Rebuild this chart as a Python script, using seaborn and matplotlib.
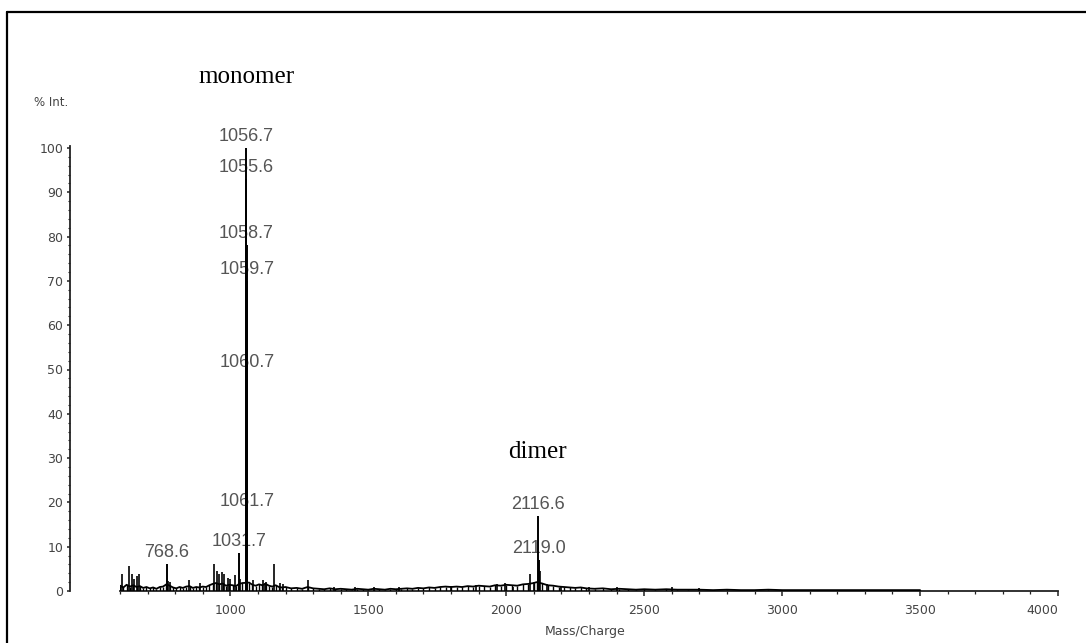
import matplotlib
matplotlib.use("Agg")
import matplotlib.pyplot as plt
import seaborn as sns
import pandas as pd
from matplotlib.ticker import MultipleLocator, FixedLocator
from matplotlib.lines import Line2D

# ---------------- data ----------------
# labelled peaks (m/z, % intensity)
peak_mz = [768.6, 1031.7, 1055.6, 1056.7, 1058.7, 1059.7, 1060.7, 1061.7, 2116.6, 2119.0]
peak_int = [6.0, 8.5, 93.0, 100.0, 78.0, 70.0, 49.0, 17.5, 17.0, 7.0]
peak_labels = ["768.6", "1031.7", "1055.6", "1056.7", "1058.7", "1059.7",
               "1060.7", "1061.7", "2116.6", "2119.0"]

# small unlabelled spikes
spike_mz = [609, 633, 642, 650, 662, 670, 775, 781, 850, 890,
            940, 951, 960, 968, 977, 992, 1000, 1017, 1035,
            1083, 1119, 1125, 1131, 1159, 1180, 1192, 1282,
            1375, 1450, 1520, 1610, 1800, 1890,
            1966, 1996, 2026, 2087, 2099, 2121, 2147,
            2200, 2300, 2400, 2600, 2700]
spike_int = [3.8, 5.6, 3.8, 2.6, 3.4, 3.8, 2.3, 2.0, 2.4, 1.7,
             6.0, 4.5, 3.8, 4.3, 3.9, 3.0, 2.8, 3.5, 2.6,
             2.4, 2.4, 1.9, 2.0, 6.0, 1.7, 1.5, 2.4,
             1.0, 0.9, 0.8, 1.0, 1.2, 1.3,
             1.5, 1.9, 1.0, 3.8, 2.0, 4.5, 1.5,
             1.2, 0.8, 1.0, 0.8, 0.6]

# noisy baseline trace
noise_mz = [600, 612, 624, 636, 648, 660, 672, 684, 696, 708,
            720, 732, 744, 756, 768, 780, 792, 804, 816, 828,
            840, 852, 864, 876, 888, 900, 912, 924, 936, 948,
            960, 972, 984, 996, 1008, 1020, 1032, 1044, 1068, 1080,
            1092, 1104, 1116, 1128, 1140, 1152, 1164, 1176, 1188, 1200,
            1220, 1240, 1260, 1280, 1300, 1320, 1340, 1360, 1380, 1400,
            1420, 1440, 1460, 1480, 1500, 1520, 1540, 1560, 1580, 1600,
            1620, 1640, 1660, 1680, 1700, 1720, 1740, 1760, 1780, 1800,
            1820, 1840, 1860, 1880, 1900, 1920, 1940, 1960, 1980, 2000,
            2020, 2040, 2060, 2080, 2100, 2110, 2130, 2150, 2170, 2190,
            2210, 2230, 2250, 2270, 2290, 2320, 2350, 2380, 2410, 2440,
            2470, 2500, 2540, 2580, 2620, 2660, 2700, 2750, 2800, 2850,
            2900, 2950, 3000, 3050, 3100, 3150, 3200, 3250, 3300, 3350,
            3400, 3450, 3500]
noise_int = [1.2, 0.8, 1.4, 1.0, 1.3, 0.9, 1.1, 0.7, 0.9, 0.6,
             0.8, 0.5, 0.9, 1.0, 1.5, 1.2, 0.8, 0.6, 0.9, 0.7,
             1.0, 1.1, 0.7, 0.9, 0.8, 1.0, 0.9, 1.3, 1.6, 1.8,
             1.5, 1.7, 1.2, 1.4, 1.3, 1.1, 1.6, 1.8, 1.9, 1.4,
             1.2, 1.5, 1.3, 1.6, 1.2, 1.0, 1.3, 0.9, 0.8, 0.9,
             0.6, 0.7, 0.5, 0.9, 0.6, 0.5, 0.4, 0.6, 0.4, 0.5,
             0.4, 0.3, 0.5, 0.4, 0.3, 0.5, 0.4, 0.3, 0.5, 0.4,
             0.5, 0.6, 0.5, 0.7, 0.6, 0.8, 0.7, 0.9, 1.0, 0.9,
             1.0, 0.9, 1.1, 1.0, 1.2, 1.1, 1.0, 1.3, 1.2, 1.4,
             1.3, 1.2, 1.5, 1.6, 1.8, 2.0, 1.7, 1.3, 1.2, 1.0,
             0.9, 0.8, 0.7, 0.8, 0.6, 0.5, 0.6, 0.4, 0.5, 0.4,
             0.3, 0.4, 0.3, 0.4, 0.3, 0.3, 0.3, 0.2, 0.3, 0.2,
             0.2, 0.3, 0.2, 0.2, 0.2, 0.2, 0.2, 0.2, 0.2, 0.2,
             0.2, 0.2, 0.2]

x_ticks = [1000, 1500, 2000, 2500, 3000, 3500, 4000]
x_ticklabels = ["1000", "1500", "2000", "2500", "3000", "3500", "4000"]
y_ticks = [0, 10, 20, 30, 40, 50, 60, 70, 80, 90, 100]

# ---------------- figure ----------------
sns.set_theme(style="ticks")
plt.rcParams["font.family"] = ["DejaVu Sans"]

W, H = 1086, 643
fig = plt.figure(figsize=(W / 100, H / 100), dpi=100)
fig.patch.set_facecolor("white")

ax_left, ax_bottom = 120, 591          # pixel positions
px_per_unit_y = 4.43
y_top = 110
ax = fig.add_axes([ax_left / W, (H - ax_bottom) / H, (1058 - ax_left) / W,
                   y_top * px_per_unit_y / H])
ax.set_facecolor("white")

noise_df = pd.DataFrame({"mz": noise_mz, "intensity": noise_int})
sns.lineplot(data=noise_df, x="mz", y="intensity", ax=ax, color="black",
             linewidth=1.3, zorder=3, estimator=None)
ax.vlines(noise_mz, 0, noise_int, color="black", linewidth=1.0, zorder=3)
ax.vlines(spike_mz, 0, spike_int, color="black", linewidth=1.2, zorder=3)
ax.vlines(peak_mz, 0, peak_int, color="black", linewidth=1.4, zorder=4)

for mz, h, lab in zip(peak_mz, peak_int, peak_labels):
    ax.text(mz, h + 2.6, lab, ha="center", va="center", fontsize=13,
            family="Liberation Sans", color="#555555", zorder=1, clip_on=False)

ax.set_xlim(600, 4000)
ax.set_ylim(0, y_top)
ax.set_xticks(x_ticks, x_ticklabels)
ax.xaxis.set_minor_locator(MultipleLocator(100))
ax.set_yticks(y_ticks)
ax.yaxis.set_minor_locator(FixedLocator(list(range(0, 101, 2))))

sns.despine(ax=ax, offset={"left": 36})
ax.spines["bottom"].set_bounds(600, 4000)
ax.spines["left"].set_bounds(0, 100.5)
for s in ("bottom", "left"):
    ax.spines[s].set_linewidth(1.3)
    ax.spines[s].set_color("#222222")

ax.tick_params(axis="x", which="major", direction="out", length=3.6, width=1.1,
               pad=5.5, labelsize=9, labelcolor="#444444", color="#222222")
ax.tick_params(axis="x", which="minor", direction="out", length=2, width=0.9,
               color="#222222")
ax.tick_params(axis="y", which="major", direction="out", length=2.5, width=1.1,
               pad=2.5, labelsize=9, labelcolor="#444444", color="#222222")
ax.tick_params(axis="y", which="minor", direction="out", length=1.5, width=0.8,
               color="#222222")
ax.get_xticklabels()[-1].set_horizontalalignment("right")

ax.set_ylabel("")
ax.set_xlabel("Mass/Charge", fontsize=9, color="#444444")
ax.xaxis.set_label_coords((585 - ax_left) / 938, -(625 - ax_bottom) / (y_top * px_per_unit_y))
ax.grid(False)

# texts outside data area
def ftext(x, y, s, **kw):
    fig.text(x / W, 1 - y / H, s, ha="center", va="center", **kw)

ftext(247, 77, "monomer", fontsize=18, family="Liberation Serif", color="black")
ftext(537, 452, "dimer", fontsize=18, family="Liberation Serif", color="black")
ftext(51, 103, "% Int.", fontsize=8.5, color="#444444")

# partial frame around the picture (top and left edges visible)
fig.add_artist(Line2D([7 / W, 7 / W], [0, 1 - 12 / H], transform=fig.transFigure,
                      color="black", linewidth=1.6))
fig.add_artist(Line2D([7 / W, 1], [1 - 12 / H, 1 - 12 / H], transform=fig.transFigure,
                      color="black", linewidth=1.6))

fig.savefig("out.png", dpi=100, facecolor="white")
